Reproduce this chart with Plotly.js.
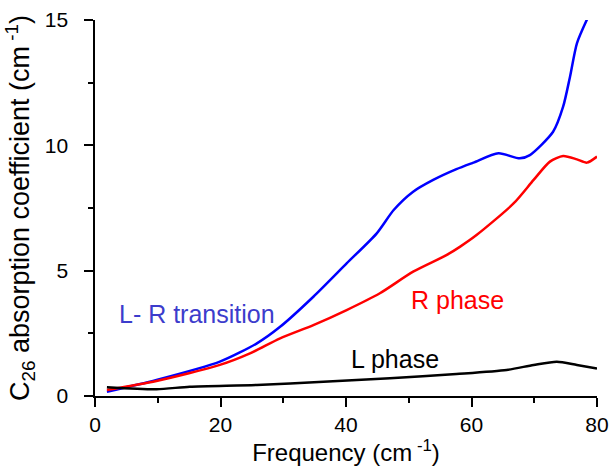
<!DOCTYPE html>
<html>
<head>
<meta charset="utf-8">
<script src="https://cdn.plot.ly/plotly-3.0.1.min.js"></script>
<style>html,body{margin:0;padding:0;background:#fff}#chart{width:613px;height:466px}</style>
</head>
<body>
<div id="chart"></div>
<script>
// L-R transition (blue)
var blueX = [1.9, 9.8, 19.9, 25.8, 29.5, 34.8, 40.1, 44.9, 47.6, 50.7, 53.9, 57.6, 60.3, 64.3, 67.7, 69.3, 73.0, 74.6, 75.7, 76.8, 78.4];
var blueY = [0.17, 0.64, 1.37, 2.1, 2.76, 3.96, 5.29, 6.49, 7.42, 8.15, 8.62, 9.05, 9.31, 9.68, 9.48, 9.61, 10.54, 11.54, 12.74, 14.07, 15.02];
// R phase (red)
var redX = [1.9, 9.8, 19.9, 24.7, 29.5, 34.8, 40.1, 45.4, 50.7, 56.0, 58.2, 60.8, 66.7, 69.9, 72.5, 74.6, 76.8, 78.4, 80.0];
var redY = [0.24, 0.6, 1.24, 1.7, 2.3, 2.83, 3.43, 4.1, 4.96, 5.62, 5.96, 6.42, 7.68, 8.62, 9.35, 9.57, 9.44, 9.31, 9.55];
// L phase (black)
var blackX = [1.9, 9.8, 15.1, 25.8, 36.4, 47.0, 57.6, 65.6, 69.9, 73.6, 76.8, 80.0];
var blackY = [0.35, 0.27, 0.37, 0.44, 0.57, 0.71, 0.88, 1.04, 1.24, 1.37, 1.24, 1.1];

var labels = ["L- R transition", "R phase", "L phase"];
var labelX = [16.2, 57.7, 47.8];
var labelY = [3.29, 3.83, 1.49];
var labelColors = ["#3c3ccc", "#ff0000", "#000000"];

var font = "Liberation Sans, Arial, Helvetica, sans-serif";

var traces = [
  {x: blueX, y: blueY, mode: "lines", line: {color: "#0000ff", width: 2.5, shape: "spline", smoothing: 0.7}},
  {x: redX, y: redY, mode: "lines", line: {color: "#ff0000", width: 2.5, shape: "spline", smoothing: 0.7}},
  {x: blackX, y: blackY, mode: "lines", line: {color: "#000000", width: 2.5, shape: "spline", smoothing: 0.7}}
];

var annotations = labels.map(function (t, i) {
  return {x: labelX[i], y: labelY[i], xref: "x", yref: "y", text: t, showarrow: false,
          font: {family: font, size: 25, color: labelColors[i]}};
});

var layout = {
  width: 613, height: 466,
  margin: {l: 95, r: 16, t: 20, b: 70},
  paper_bgcolor: "#fff", plot_bgcolor: "#fff",
  showlegend: false,
  font: {family: font, color: "#000"},
  xaxis: {
    range: [0, 80], showgrid: false, zeroline: false,
    showline: true, linecolor: "#000", linewidth: 2,
    ticks: "outside", ticklen: 9, tickwidth: 2, tickcolor: "#000",
    tick0: 0, dtick: 20,
    minor: {ticks: "outside", ticklen: 5, tickwidth: 2, tickcolor: "#000", dtick: 10, showgrid: false},
    tickfont: {size: 21, family: font},
    title: {text: "Frequency (cm<sup> -1</sup>)", font: {size: 24, family: font}, standoff: 4}
  },
  yaxis: {
    range: [0, 15], showgrid: false, zeroline: false,
    showline: true, linecolor: "#000", linewidth: 2,
    ticks: "outside", ticklen: 9, tickwidth: 2, tickcolor: "#000",
    tick0: 0, dtick: 5, ticksuffix: "\u00a0\u00a0",
    minor: {ticks: "outside", ticklen: 5, tickwidth: 2, tickcolor: "#000", dtick: 2.5, showgrid: false},
    tickfont: {size: 21, family: font},
    title: {text: "C<sub>26</sub> absorption coefficient (cm<sup> -1</sup>)", font: {size: 27, family: font}, standoff: 7}
  },
  annotations: annotations
};

Plotly.newPlot("chart", traces, layout, {displayModeBar: false, staticPlot: true});
</script>
</body>
</html>
